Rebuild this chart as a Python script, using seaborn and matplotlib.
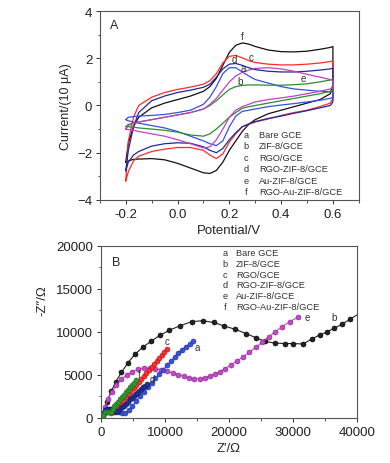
import matplotlib
matplotlib.use("Agg")
import matplotlib.pyplot as plt
import seaborn as sns
from matplotlib.ticker import MultipleLocator

# ---- panel A: cyclic voltammograms ----
cv_E = [-0.2, -0.19, -0.17, -0.15, -0.1, -0.05, 0.0, 0.05, 0.1, 0.125, 0.15, 0.175,
        0.2, 0.225, 0.25, 0.275, 0.3, 0.35, 0.4, 0.45, 0.5, 0.55, 0.59, 0.6]

f_up = [-2.4, -1.6, -0.9, -0.5, -0.1, 0.1, 0.25, 0.4, 0.6, 0.8, 1.15, 1.7,
        2.25, 2.55, 2.65, 2.6, 2.5, 2.35, 2.28, 2.27, 2.3, 2.38, 2.46, 2.5]
f_dn = [-2.4, -2.35, -2.28, -2.27, -2.25, -2.3, -2.45, -2.65, -2.85, -2.88, -2.75, -2.4,
        -1.9, -1.5, -1.1, -0.8, -0.6, -0.35, -0.2, -0.05, 0.1, 0.25, 0.5, 0.9]
c_up = [-3.2, -1.5, -0.5, 0.0, 0.35, 0.55, 0.68, 0.78, 0.9, 1.05, 1.35, 1.8,
        2.08, 2.12, 2.02, 1.9, 1.82, 1.75, 1.72, 1.72, 1.75, 1.8, 1.86, 1.9]
c_dn = [-3.2, -2.8, -2.35, -2.15, -1.95, -1.85, -1.78, -1.78, -1.9, -2.1, -2.25, -2.05,
        -1.55, -1.2, -0.9, -0.8, -0.7, -0.57, -0.42, -0.3, -0.2, -0.05, 0.1, 0.3]
d_up = [-2.77, -1.9, -0.9, -0.3, 0.2, 0.4, 0.55, 0.65, 0.77, 0.9, 1.2, 1.55,
        1.75, 1.78, 1.7, 1.6, 1.52, 1.45, 1.42, 1.42, 1.45, 1.5, 1.55, 1.58]
d_dn = [-2.77, -2.4, -2.1, -1.95, -1.72, -1.62, -1.58, -1.6, -1.75, -1.9, -2.0, -1.82,
        -1.45, -1.15, -0.9, -0.78, -0.68, -0.55, -0.45, -0.33, -0.22, -0.1, 0.0, 0.15]
a_up = [-0.6, -0.5, -0.47, -0.45, -0.42, -0.38, -0.3, -0.2, 0.05, 0.35, 0.8, 1.35,
        1.6, 1.6, 1.42, 1.25, 1.1, 0.95, 0.8, 0.7, 0.65, 0.6, 0.58, 0.58]
a_dn = [-0.6, -0.65, -0.7, -0.75, -0.85, -0.95, -1.1, -1.3, -1.5, -1.62, -1.7, -1.5,
        -0.9, -0.45, -0.25, -0.2, -0.15, -0.05, 0.02, 0.08, 0.15, 0.22, 0.3, 0.35]
b_up = [-0.9, -0.8, -0.75, -0.7, -0.6, -0.5, -0.4, -0.3, -0.15, 0.0, 0.2, 0.45,
        0.68, 0.8, 0.85, 0.87, 0.87, 0.86, 0.86, 0.88, 0.92, 1.0, 1.08, 1.12]
b_dn = [-0.9, -0.9, -0.92, -0.95, -1.0, -1.05, -1.13, -1.25, -1.3, -1.2, -1.0, -0.75,
        -0.5, -0.3, -0.12, -0.05, 0.0, 0.1, 0.2, 0.3, 0.4, 0.5, 0.6, 0.65]
e_up = [-1.0, -0.85, -0.75, -0.7, -0.6, -0.5, -0.4, -0.3, -0.15, 0.05, 0.3, 0.65,
        1.0, 1.25, 1.4, 1.5, 1.57, 1.6, 1.55, 1.45, 1.32, 1.2, 1.1, 1.05]
e_dn = [-1.0, -1.02, -1.05, -1.1, -1.2, -1.3, -1.45, -1.62, -1.8, -1.75, -1.45, -1.0,
        -0.5, -0.2, -0.05, 0.05, 0.15, 0.25, 0.32, 0.4, 0.5, 0.6, 0.7, 0.75]

# ---- panel B: Nyquist plots ----
a_zr = [100, 400, 800, 1300, 1800, 2300, 2800, 3300, 3800, 4300, 4900, 5500, 6100, 6700,
        7300, 7900, 8500, 9100, 9700, 10300, 10900, 11500, 12100, 12700, 13300, 13900, 14400]
a_zi = [100, 600, 900, 1050, 1000, 850, 650, 550, 600, 900, 1400, 1950, 2500, 3000,
        3550, 4100, 4600, 5100, 5600, 6100, 6600, 7050, 7500, 7950, 8300, 8650, 8900]
b_zr = [300, 900, 1600, 2300, 3200, 4200, 5300, 6500, 7800, 9200, 10700, 12300, 14200, 15900,
        17600, 19200, 21000, 22700, 24300, 25700, 27200, 28700, 30000, 31600, 33000, 34200,
        35300, 36400, 37700, 39000, 40500]
b_zi = [300, 1900, 3100, 4200, 5300, 6400, 7400, 8200, 8900, 9600, 10200, 10700, 11200, 11300,
        11100, 10700, 10300, 9800, 9300, 8900, 8700, 8650, 8650, 8600, 9200, 9650,
        10000, 10400, 10900, 11500, 12200]
c_zr = [100, 400, 800, 1200, 1600, 2000, 2300, 2700, 3100, 3500, 3900, 4300, 4700, 5100,
        5500, 5900, 6300, 6700, 7100, 7500, 7900, 8300, 8700, 9100, 9500, 9900, 10300]
c_zi = [100, 500, 700, 700, 600, 700, 950, 1300, 1650, 2000, 2400, 2750, 3100, 3450,
        3800, 4150, 4500, 4850, 5200, 5550, 5900, 6250, 6600, 6950, 7300, 7650, 8050]
d_zr = [100, 300, 600, 900, 1200, 1500, 1800, 2100, 2400, 2700, 3000, 3300, 3600, 3900,
        4200, 4500, 4800, 5100, 5400, 5700, 6000, 6300, 6600, 6900, 7200]
d_zi = [100, 600, 900, 1050, 1100, 1050, 950, 800, 750, 850, 1050, 1250, 1450, 1650,
        1900, 2150, 2350, 2550, 2750, 2950, 3150, 3350, 3550, 3750, 3950]
e_zr = [200, 600, 1100, 1700, 2400, 3200, 4000, 4900, 5800, 6700, 7600, 8500, 9400, 10300,
        11200, 12100, 13000, 13800, 14600, 15400, 16200, 17000, 17800, 18600, 19400, 20300,
        21200, 22200, 23200, 24200, 25200, 26200, 27200, 28300, 29500, 30800]
e_zi = [300, 1300, 2200, 3000, 3800, 4500, 5000, 5400, 5650, 5800, 5800, 5750, 5600, 5450,
        5250, 5050, 4850, 4650, 4550, 4550, 4650, 4850, 5100, 5400, 5750, 6150,
        6600, 7100, 7650, 8200, 8800, 9400, 10000, 10600, 11200, 11700]
f_zr = [100, 300, 600, 900, 1200, 1500, 1800, 2100, 2400, 2700, 3000, 3300, 3600, 3900,
        4200, 4500, 4800, 5100, 5400]
f_zi = [100, 400, 650, 700, 650, 750, 1100, 1350, 1600, 1900, 2150, 2450, 2700, 3000,
        3250, 3550, 3800, 4100, 4400]

letters = ["a", "b", "c", "d", "e", "f"]
names = ["Bare GCE", "ZIF-8/GCE", "RGO/GCE", "RGO-ZIF-8/GCE", "Au-ZIF-8/GCE", "RGO-Au-ZIF-8/GCE"]

sns.set_theme(style="ticks")
plt.rcParams["font.family"] = ["Liberation Sans", "DejaVu Sans"]
plt.rcParams["axes.edgecolor"] = "#555555"
plt.rcParams["axes.linewidth"] = 0.8

fig = plt.figure(figsize=(3.9, 4.64), dpi=100)
axA = fig.add_axes([0.256, 0.567, 0.664, 0.407])
axB = fig.add_axes([0.259, 0.097, 0.656, 0.371])

# CV loops: forward (upper) branch then the reverse (lower) branch
cv = [(f_up, f_dn, "#111111"), (c_up, c_dn, "#ff2a2a"), (d_up, d_dn, "#1f2a9a"),
      (a_up, a_dn, "#3850e0"), (b_up, b_dn, "#2e8b2e"), (e_up, e_dn, "#c040c8")]
for up, dn, col in cv:
    xs = cv_E + cv_E[::-1]
    ys = up + dn[::-1]
    sns.lineplot(x=xs, y=ys, sort=False, estimator=None, color=col, lw=0.9, ax=axA)

axA.set_xlim(-0.3, 0.7)
axA.set_ylim(-4, 4)
axA.xaxis.set_minor_locator(MultipleLocator(0.1))
axA.yaxis.set_major_locator(MultipleLocator(2))
axA.yaxis.set_minor_locator(MultipleLocator(1))
axA.set_xticks([-0.2, 0.0, 0.2, 0.4, 0.6])
axA.set_xticklabels(["-0.2", "0.0", "0.2", "0.4", "0.6"])
axA.set_xlabel("Potential/V", fontsize=9.5, labelpad=3)
axA.set_ylabel("Current/(10 μA)", fontsize=9, labelpad=4)
axA.text(-0.243, 3.4, "A", fontsize=9, ha="center", va="center")

for s, xx, yy in [("f", 0.25, 2.95), ("c", 0.285, 2.05), ("d", 0.22, 1.97),
                  ("a", 0.255, 1.6), ("b", 0.24, 1.04), ("e", 0.485, 1.17)]:
    axA.text(xx, yy, s, fontsize=7, ha="center", va="center", color="#333333")

for i, (l, n) in enumerate(zip(letters, names)):
    yy = -1.21 - 0.49 * i
    axA.text(0.265, yy, l, fontsize=6.7, ha="center", va="center", color="#333333")
    axA.text(0.315, yy, n, fontsize=6.7, ha="left", va="center", color="#333333")

# Nyquist
nyq = [(b_zr, b_zi, "#222222", "#000000"), (e_zr, e_zi, "#c04cc4", "#8a208e"),
       (a_zr, a_zi, "#3a52d6", "#1f2f9a"), (c_zr, c_zi, "#ff3030", "#b01010"),
       (d_zr, d_zi, "#24309a", "#101860"), (f_zr, f_zi, "#2e9a2e", "#1a6a1a")]
for zr, zi, col, ec in nyq:
    sns.lineplot(x=zr, y=zi, sort=False, estimator=None, color=col, lw=0.8,
                 marker="o", markersize=3.6, markeredgecolor=ec, markeredgewidth=0.4, ax=axB)

axB.set_xlim(0, 40000)
axB.set_ylim(0, 20000)
axB.xaxis.set_major_locator(MultipleLocator(10000))
axB.xaxis.set_minor_locator(MultipleLocator(5000))
axB.yaxis.set_major_locator(MultipleLocator(5000))
axB.yaxis.set_minor_locator(MultipleLocator(2500))
axB.set_xlabel("Z\u2032/Ω", fontsize=9.5, labelpad=3)
axB.set_ylabel("-Z\u2033/Ω", fontsize=9.5)
axB.yaxis.set_label_coords(-0.205, 0.69)
axB.text(2300, 18100, "B", fontsize=9, ha="center", va="center")

for s, xx, yy in [("a", 15000, 8300), ("b", 36400, 11700), ("c", 10300, 8900),
                  ("d", 8000, 4500), ("e", 32300, 11700), ("f", 6000, 5100)]:
    axB.text(xx, yy, s, fontsize=7, ha="center", va="center", color="#333333")

for i, (l, n) in enumerate(zip(letters, names)):
    yy = 19200 - 1240 * i
    axB.text(19400, yy, l, fontsize=6.7, ha="center", va="center", color="#333333")
    axB.text(21100, yy, n, fontsize=6.7, ha="left", va="center", color="#333333")

for ax in (axA, axB):
    ax.tick_params(which="major", direction="out", length=3, width=0.7, labelsize=9.5, pad=2.5,
                   colors="#333333", labelcolor="#222222")
    ax.tick_params(which="minor", direction="out", length=1.8, width=0.6, colors="#333333")
    for sp in ax.spines.values():
        sp.set_visible(True)

fig.savefig("out.png", dpi=100)
